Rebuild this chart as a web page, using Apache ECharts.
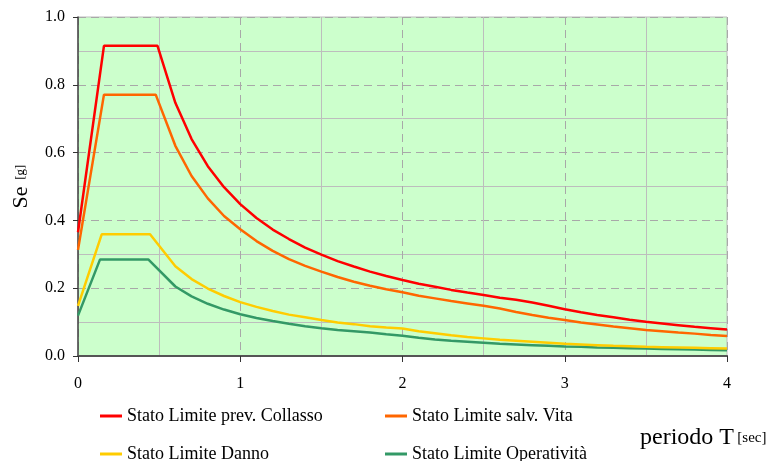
<!DOCTYPE html>
<html lang="it">
<head>
<meta charset="UTF-8">
<title>Spettri di risposta</title>
<style>
  * { margin: 0; padding: 0; }
  #main { width: 771px; height: 461px; background: #fff; }
</style>
</head>
<body>
<div id="main"></div>
<script src="https://cdn.jsdelivr.net/npm/echarts@6/dist/echarts.min.js"></script>
<script>
// periodi T [sec] comuni dopo il plateau
let tailT = [0.6, 0.7, 0.8, 0.9, 1.0, 1.1, 1.2, 1.3, 1.4, 1.5, 1.6, 1.7, 1.8, 1.9, 2.0,
  2.1, 2.2, 2.3, 2.4, 2.5, 2.6, 2.7, 2.8, 2.9, 3.0, 3.1, 3.2, 3.3, 3.4, 3.5, 3.6, 3.7, 3.8, 3.9, 4.0];

// tratto iniziale (0, TB, TC) di ogni spettro
let headT_SLC = [0, 0.16, 0.49];
let headSe_SLC = [0.365, 0.915, 0.915];
let tailSe_SLC = [0.747, 0.640, 0.560, 0.498, 0.448, 0.407, 0.373, 0.345, 0.320, 0.299, 0.280, 0.264, 0.249, 0.236, 0.224,
  0.213, 0.204, 0.195, 0.187, 0.180, 0.172, 0.166, 0.158, 0.148, 0.138, 0.129, 0.121, 0.114, 0.107, 0.101, 0.096, 0.091, 0.086, 0.082, 0.078];

let headT_SLV = [0, 0.16, 0.479];
let headSe_SLV = [0.313, 0.771, 0.771];
let tailSe_SLV = [0.620, 0.531, 0.465, 0.413, 0.374, 0.339, 0.310, 0.286, 0.266, 0.249, 0.233, 0.219, 0.207, 0.197, 0.188,
  0.178, 0.170, 0.162, 0.155, 0.148, 0.140, 0.130, 0.121, 0.113, 0.106, 0.099, 0.093, 0.087, 0.082, 0.077, 0.073, 0.069, 0.066, 0.062, 0.059];

let headT_SLD = [0, 0.146, 0.444];
let headSe_SLD = [0.148, 0.359, 0.359];
let tailSe_SLD = [0.265, 0.227, 0.199, 0.177, 0.159, 0.145, 0.133, 0.122, 0.114, 0.106, 0.099, 0.094, 0.088, 0.084, 0.081,
  0.073, 0.067, 0.061, 0.056, 0.052, 0.048, 0.045, 0.042, 0.039, 0.036, 0.034, 0.032, 0.030, 0.029, 0.027, 0.026, 0.025, 0.024, 0.023, 0.022];

let headT_SLO = [0, 0.136, 0.433];
let headSe_SLO = [0.119, 0.285, 0.285];
let tailSe_SLO = [0.205, 0.176, 0.154, 0.137, 0.123, 0.112, 0.103, 0.095, 0.088, 0.082, 0.077, 0.073, 0.069, 0.064, 0.060,
  0.054, 0.049, 0.045, 0.042, 0.039, 0.036, 0.034, 0.032, 0.030, 0.028, 0.027, 0.025, 0.024, 0.023, 0.022, 0.021, 0.020, 0.019, 0.018, 0.017];

let seriesNames = ['Stato Limite prev. Collasso', 'Stato Limite salv. Vita', 'Stato Limite Danno', 'Stato Limite Operatività'];
let seriesColors = ['#ff0000', '#ff6600', '#ffcc00', '#339966'];

const FONT = '"Liberation Serif", "Times New Roman", serif';

function pairs(headT, headSe, tailSe) {
  let t = headT.concat(tailT);
  let se = headSe.concat(tailSe);
  return t.map((v, i) => [v, se[i]]);
}

let curves = [
  pairs(headT_SLC, headSe_SLC, tailSe_SLC),
  pairs(headT_SLV, headSe_SLV, tailSe_SLV),
  pairs(headT_SLD, headSe_SLD, tailSe_SLD),
  pairs(headT_SLO, headSe_SLO, tailSe_SLO)
];

let series = curves.map((data, i) => {
  return {
    name: seriesNames[i],
    type: 'line',
    data: data,
    showSymbol: false,
    symbol: 'none',
    z: 10 - i,
    lineStyle: { color: seriesColors[i], width: 2.5 },
    itemStyle: { color: seriesColors[i] }
  }
});

// una legenda per voce: 2 colonne x 2 righe
let legendPos = [[100, 407], [385, 407], [100, 445], [385, 445]];
let legends = seriesNames.map((name, i) => {
  return {
    left: legendPos[i][0],
    top: legendPos[i][1],
    padding: 0,
    data: [name],
    icon: 'rect',
    itemWidth: 22,
    itemHeight: 3,
    textStyle: { fontFamily: FONT, fontSize: 18, color: '#000' }
  }
});

let option = {
  animation: false,
  backgroundColor: '#fff',
  grid: {
    left: 78, right: 44, top: 17, bottom: 105,
    show: true,
    backgroundColor: '#ccffcc',
    borderColor: '#bdbdbd',
    borderWidth: 1
  },
  legend: legends,
  xAxis: {
    type: 'value',
    min: 0, max: 4, interval: 1,
    axisLine: { show: true, onZero: false, lineStyle: { color: '#555', width: 2 } },
    axisTick: { show: true, length: 6, lineStyle: { color: '#333' } },
    axisLabel: { fontFamily: FONT, fontSize: 16, color: '#000', margin: 20 },
    splitLine: { show: true, lineStyle: { color: '#a8a8a8', type: [8, 5], width: 1 } },
    minorTick: { show: false, splitNumber: 2 },
    minorSplitLine: { show: true, lineStyle: { color: '#bdbdbd', width: 1 } }
  },
  yAxis: {
    type: 'value',
    min: 0, max: 1, interval: 0.2,
    name: '{a|Se}  {b|[g]}',
    nameLocation: 'middle',
    nameGap: 46,
    nameTextStyle: {
      rich: {
        a: { fontFamily: FONT, fontSize: 22, color: '#000' },
        b: { fontFamily: FONT, fontSize: 13, color: '#000' }
      }
    },
    axisLine: { show: true, lineStyle: { color: '#444', width: 1.5 } },
    axisTick: { show: true, length: 5, lineStyle: { color: '#333' } },
    axisLabel: { fontFamily: FONT, fontSize: 16, color: '#000', margin: 13, formatter: v => v.toFixed(1) },
    splitLine: { show: true, lineStyle: { color: '#a8a8a8', type: [8, 5], width: 1 } },
    minorTick: { show: false, splitNumber: 2 },
    minorSplitLine: { show: true, lineStyle: { color: '#bdbdbd', width: 1 } }
  },
  graphic: [{
    type: 'text',
    left: 640,
    top: 426,
    style: {
      text: '{a|periodo T} {b|[sec]}',
      rich: {
        a: { fontFamily: FONT, fontSize: 24, fill: '#000' },
        b: { fontFamily: FONT, fontSize: 15, fill: '#000' }
      }
    }
  }],
  series: series
};

initChart(option);

function initChart(option) {
  let myChart = echarts.init(document.getElementById('main'));
  myChart.setOption(option);
  window.addEventListener('resize', () => myChart.resize());
}
</script>
</body>
</html>
